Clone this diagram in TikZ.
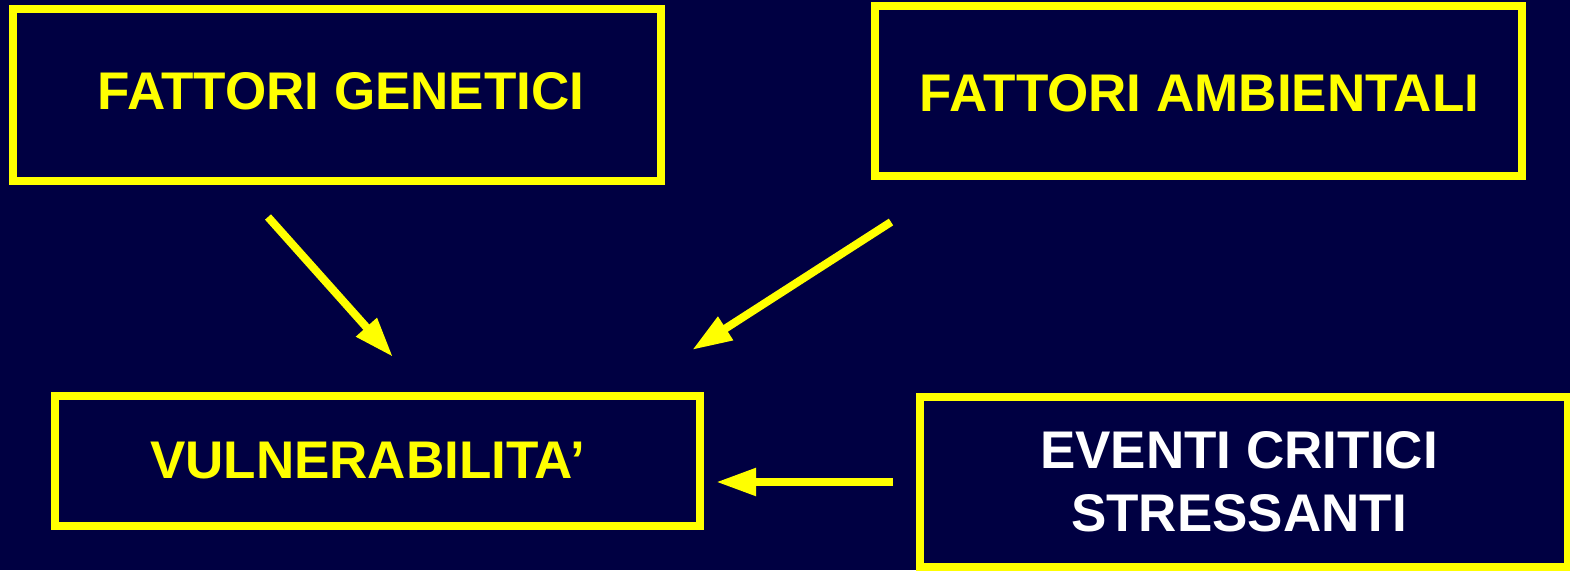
\documentclass[tikz,border=0pt]{standalone}
\usepackage{fontspec}
\setmainfont{Liberation Sans}
\usetikzlibrary{arrows.meta}
\definecolor{navy}{RGB}{0,0,66}
\definecolor{hiyellow}{RGB}{255,255,0}
\tikzset{
  factorbox/.style={draw=hiyellow, line width=8pt, rectangle, inner sep=0pt},
  boxtext/.style={align=center, inner sep=0pt,
    font=\fontsize{53}{63}\selectfont\bfseries, text=hiyellow},
  linkarrow/.style={draw=hiyellow, line width=8pt,
    -{Triangle[length=40pt,width=26pt]}, fill=hiyellow}
}
\begin{document}
\begin{tikzpicture}[x=1pt,y=-1pt]
  \fill[navy] (0,0) rectangle (1570,570);
  \useasboundingbox (0,0) rectangle (1570,570);

  % frames
  \node[factorbox, minimum width=648pt, minimum height=172pt] (gen) at (337,95) {};
  \node[factorbox, minimum width=647pt, minimum height=170pt] (amb) at (1198.5,91) {};
  \node[factorbox, minimum width=645pt, minimum height=130pt] (vul) at (377.5,461) {};
  \node[factorbox, minimum width=648pt, minimum height=170pt] (evt) at (1244,482) {};

  % captions
  \node[boxtext] (gentext) at ([shift={(4,-4)}]gen.center) {FATTORI GENETICI};
  \node[boxtext] (ambtext) at ([shift={(1,2)}]amb.center) {FATTORI AMBIENTALI};
  \node[boxtext] (vultext) at ([shift={(-10,0)}]vul.center) {VULNERABILITA’};
  \node[boxtext, text=white] (evttext) at ([shift={(-5,0)}]evt.center) {EVENTI CRITICI\\STRESSANTI};

  % free ends of the three arrows
  \coordinate (genout) at (268,217);
  \coordinate (genin)  at (393,357);
  \coordinate (ambout) at (891,222);
  \coordinate (ambin)  at (692,350);
  \coordinate (evtout) at (893,482);
  \coordinate (evtin)  at (716,482);

  \draw[linkarrow] (genout) -- (genin);
  \draw[linkarrow] (ambout) -- (ambin);
  \draw[linkarrow] (evtout) -- (evtin);
\end{tikzpicture}
\end{document}
